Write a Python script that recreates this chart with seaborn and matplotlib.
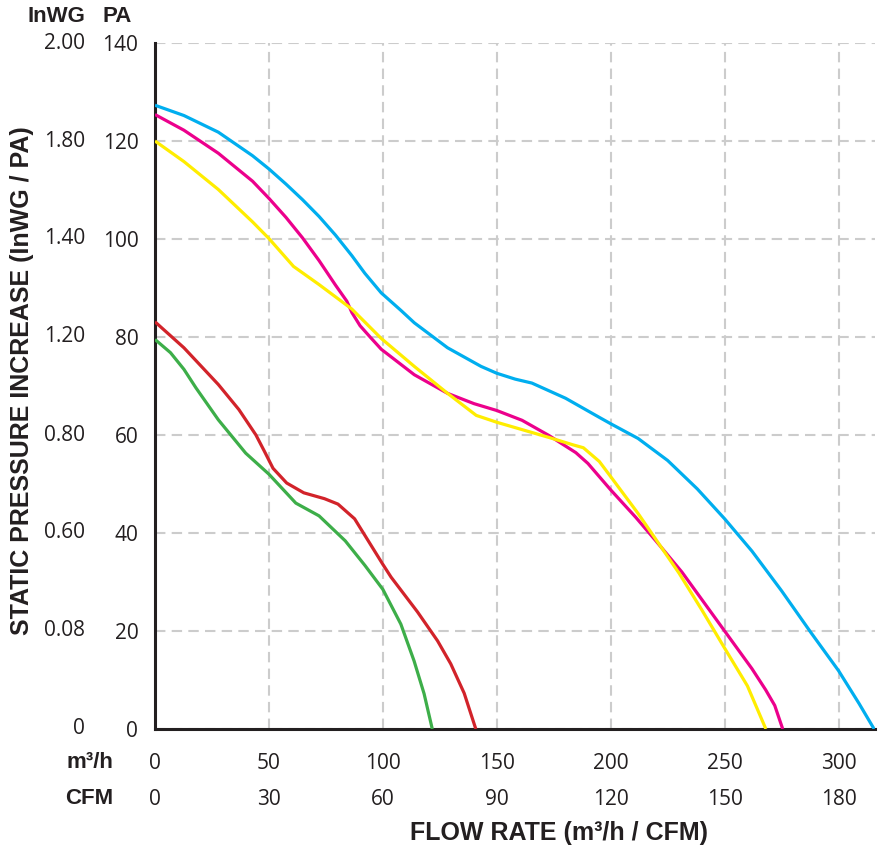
import matplotlib
matplotlib.use("Agg")
import matplotlib.pyplot as plt
import seaborn as sns
import pandas as pd

# ---- data (flow in m3/h, pressure in PA) ----
blue_flow = [0, 12.7, 27.8, 42.8, 50, 57.5, 64.8, 72, 79.2, 86.4, 92.1, 99.3, 108, 113.8, 128.4,
             143.1, 150, 158.1, 165.4, 180.2, 195, 200, 212, 225, 238, 250, 262, 275, 288,
             300, 309, 315.6]
blue_pa = [127.3, 125.2, 121.8, 117.0, 114.3, 111.2, 108.0, 104.6, 100.8, 96.6, 93.0, 89.0, 85.4,
           82.9, 77.8, 74.0, 72.6, 71.4, 70.6, 67.5, 63.6, 62.3, 59.3, 54.8, 49.0, 42.9, 36.3,
           28.2, 19.6, 11.9, 5.2, 0]

magenta_flow = [0, 12.7, 27.8, 42.8, 50, 57.5, 64.8, 72, 79.2, 84.2, 86.4, 90, 94.4, 99.3, 113.8,
                128.4, 140, 150, 161.1, 172.9, 184.7, 190, 200, 211, 220, 231.3, 250, 262, 268,
                272, 275.5]
magenta_pa = [125.4, 122.2, 117.5, 111.8, 108.3, 104.4, 100.2, 95.6, 90.6, 87.3, 85.0, 82.3, 80.0,
              77.5, 72.3, 68.5, 66.4, 65.0, 63.0, 59.9, 56.4, 54.2, 48.8, 43.2, 38.3, 32.0, 20.0,
              12.3, 8.0, 4.8, 0]

yellow_flow = [0, 12.7, 27.8, 42.8, 50, 60.8, 72, 86.4, 99.3, 113.8, 128.4, 141, 150, 172.9, 183.4,
               188, 195, 200, 212, 230, 240, 250, 260, 268.1]
yellow_pa = [120.0, 115.8, 110.1, 103.5, 100.1, 94.4, 90.7, 85.7, 79.7, 74.0, 68.5, 64.0, 62.6,
             59.5, 58.0, 57.4, 54.6, 51.5, 44.0, 31.8, 24.3, 16.5, 8.8, 0]

red_flow = [0, 12.7, 27.8, 36.8, 44.3, 48.1, 51.8, 57.8, 65.3, 74.4, 80.3, 87.6, 94.8, 100, 103.6,
            115.2, 124, 129.8, 135.7, 140.8]
red_pa = [83.1, 77.8, 70.3, 65.2, 60.0, 56.6, 53.2, 50.2, 48.2, 47.0, 45.9, 42.9, 37.5, 33.6,
          31.0, 23.9, 18.0, 13.3, 7.3, 0]

green_flow = [0, 6.8, 12.7, 18, 27.8, 39.8, 50, 61.8, 72, 83.5, 92.1, 100, 107.9, 113.7, 118.1,
              121.7]
green_pa = [79.5, 76.8, 73.4, 69.6, 63.1, 56.3, 52.0, 46.1, 43.5, 38.4, 33.4, 28.5, 21.4, 13.9,
            7.2, 0]

series_names = ["blue", "magenta", "yellow", "red", "green"]
series_colors = ["#00AEEF", "#EC008C", "#FFED00", "#D2232A", "#3DAE49"]

x_ticks = [0, 50, 100, 150, 200, 250, 300]
cfm_labels = ["0", "30", "60", "90", "120", "150", "180"]
pa_ticks = [0, 20, 40, 60, 80, 100, 120, 140]
inwg_labels = ["0", "0.08", "0.60", "0.80", "1.20", "1.40", "1.80", "2.00"]

# ---- build long table ----
flows = [blue_flow, magenta_flow, yellow_flow, red_flow, green_flow]
pas = [blue_pa, magenta_pa, yellow_pa, red_pa, green_pa]
rows = []
for name, fx, py in zip(series_names, flows, pas):
    for a, b in zip(fx, py):
        rows.append({"series": name, "flow": a, "pa": b})
df = pd.DataFrame(rows)

sns.set_theme(style="white")
plt.rcParams["font.family"] = ["Open Sans", "DejaVu Sans"]

fig = plt.figure(figsize=(8.83, 8.5), dpi=100)
ax = fig.add_axes([155 / 883, 121 / 850, 720 / 883, 686 / 850])

sns.lineplot(data=df, x="flow", y="pa", hue="series", hue_order=series_names,
             palette=series_colors, sort=False, estimator=None, units="series",
             linewidth=2.3, legend=False, ax=ax, zorder=3)
for ln in ax.lines:
    ln.set_solid_joinstyle("round")
    ln.set_solid_capstyle("butt")

ax.set_xlim(0, 316)
ax.set_ylim(0, 140)
ax.set_xticks(x_ticks)
ax.set_xticklabels([str(v) for v in x_ticks])
ax.set_yticks(pa_ticks)
ax.set_yticklabels([str(v) for v in pa_ticks])

for s in ["top", "right"]:
    ax.spines[s].set_visible(False)
for s in ["left", "bottom"]:
    ax.spines[s].set_color("#231F20")
    ax.spines[s].set_linewidth(2.2)

ax.grid(True, color="#cccccc", linestyle=(0, (5, 3)), linewidth=1.5, zorder=0)
ax.set_axisbelow(True)

txt_color = "#231F20"
num_size = 15
ax.tick_params(axis="both", direction="out", length=8, width=2, color="#231F20",
               labelsize=num_size, labelcolor=txt_color)
ax.tick_params(axis="y", pad=4)
ax.tick_params(axis="x", pad=9)

ax.set_xlabel("")
ax.set_ylabel("")

# InWG column
for v, lab in zip(pa_ticks, inwg_labels):
    ax.annotate(lab, xy=(0, v), xycoords=("axes fraction", "data"),
                xytext=(-50.5, 0), textcoords="offset points",
                ha="right", va="center", fontsize=num_size, color=txt_color)

# CFM row
for v, lab in zip(x_ticks, cfm_labels):
    ax.annotate(lab, xy=(v, 0), xycoords=("data", "axes fraction"),
                xytext=(0, -51), textcoords="offset points",
                ha="center", va="center", fontsize=num_size, color=txt_color)

bold_family = ["Liberation Sans", "DejaVu Sans"]
bold = dict(fontweight="bold", color=txt_color, fontsize=16, family=bold_family)
fig.text(85 / 883, 1 - 16 / 850, "InWG", ha="right", va="center", **bold)
fig.text(132 / 883, 1 - 16 / 850, "PA", ha="right", va="center", **bold)
fig.text(113 / 883, 1 - 762 / 850, "m³/h", ha="right", va="center", **bold)
fig.text(113 / 883, 1 - 799 / 850, "CFM", ha="right", va="center", **bold)
fig.text(559 / 883, 1 - 833 / 850, "FLOW RATE (m³/h / CFM)", ha="center", va="center",
         fontweight="bold", color=txt_color, fontsize=18, family=bold_family)
fig.text(22 / 883, 1 - 381 / 850, "STATIC PRESSURE INCREASE (InWG / PA)", ha="center",
         va="center", rotation=90, fontweight="bold", color=txt_color, fontsize=18,
         family=bold_family)

fig.savefig("out.png", dpi=100)
